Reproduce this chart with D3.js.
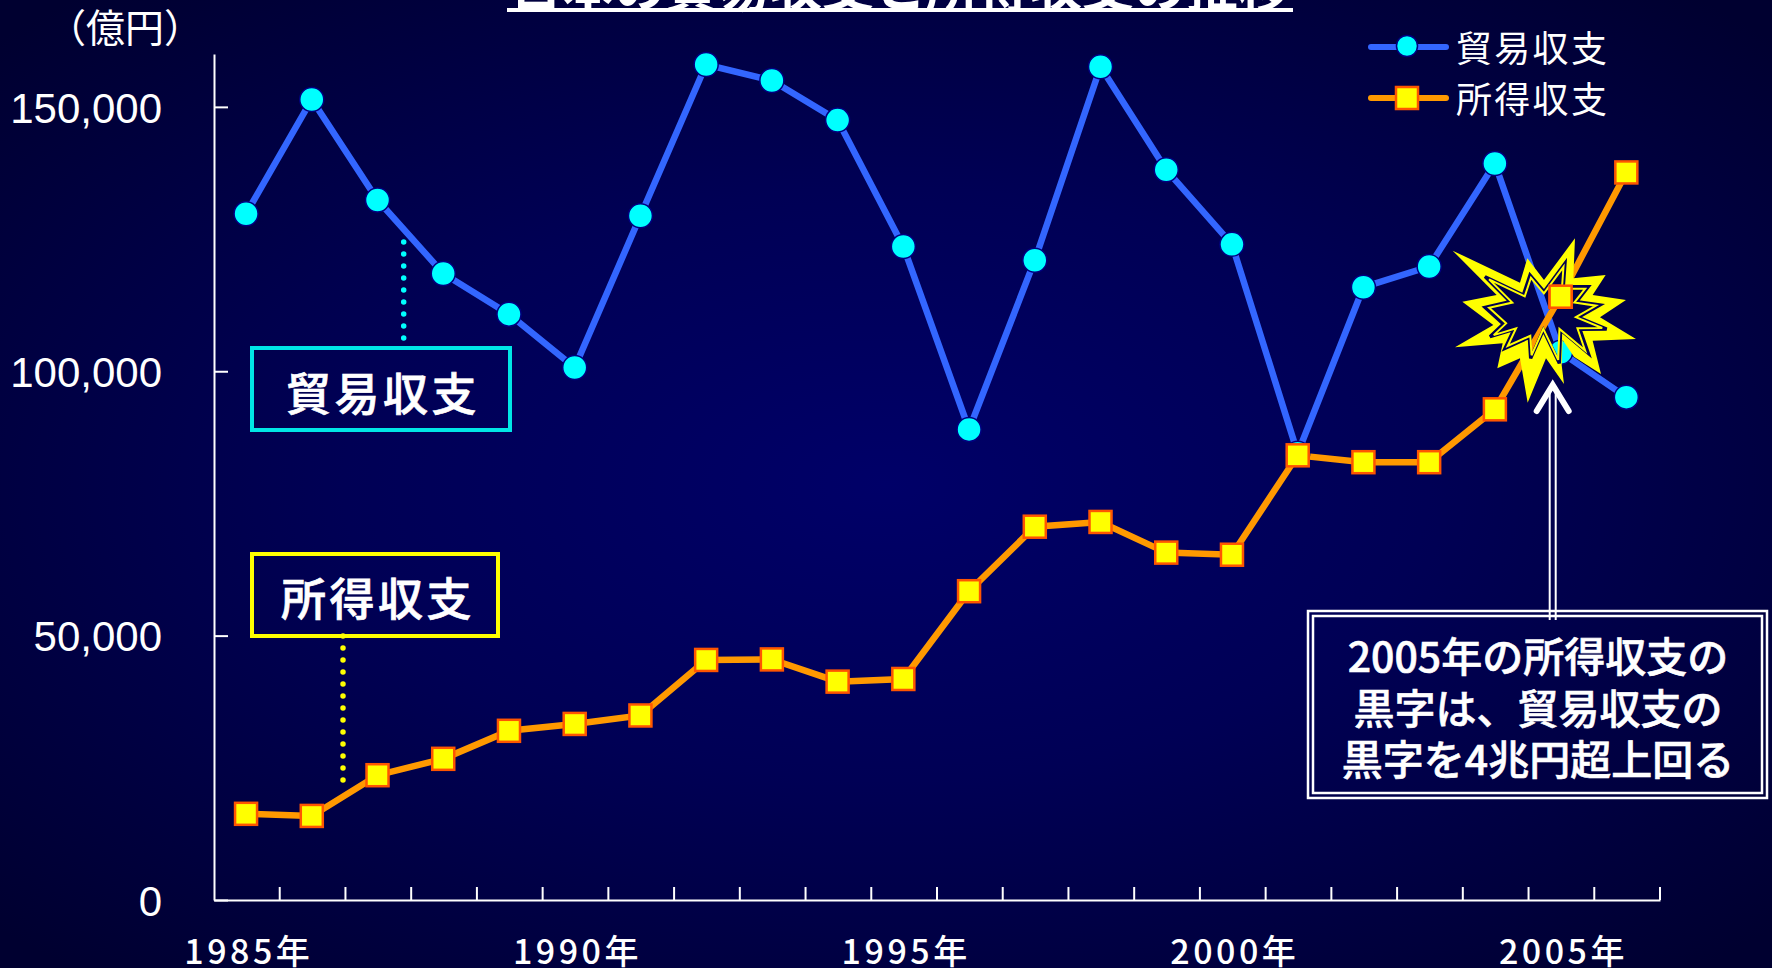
<!DOCTYPE html>
<html lang="ja"><head><meta charset="utf-8">
<script src="https://cdn.jsdelivr.net/npm/d3@7"></script>
<style>
html,body{margin:0;padding:0;background:#000033;overflow:hidden}
svg{display:block}
text{fill:#fff}
</style></head><body>
<svg id="c" width="1772" height="968"></svg>
<script>
const years=d3.range(1985,2007);
const tradeBalance=[129800,151400,132400,118500,110800,100700,129400,158000,155000,147500,123600,89000,121000,157600,138100,124000,84500,115900,119800,139300,103600,95100];
const incomeBalance=[16300,15900,23600,26700,32000,33300,34900,45400,45500,41300,41800,58400,70600,71500,65700,65300,84100,82800,82800,92800,114100,137600];
const yTicks=[0,50000,100000,150000];
const xLabelYears=[1985,1990,1995,2000,2005];
const seriesNames=["貿易収支","所得収支"];
const titleText="日本の貿易収支と所得収支の推移";
const unitText="（億円）";
const noteLines=["2005年の所得収支の","黒字は、貿易収支の","黒字を4兆円超上回る"];
const JP='"Noto Sans CJK JP","Noto Sans",sans-serif', LAT='"Liberation Sans",Arial,sans-serif';

const svg=d3.select("#c");
const defs=svg.append("defs");
const g=defs.append("radialGradient").attr("id","bg").attr("cx","50%").attr("cy","50%").attr("r","68%");
g.append("stop").attr("offset","0%").attr("stop-color","#000068");
g.append("stop").attr("offset","45%").attr("stop-color","#000055");
g.append("stop").attr("offset","100%").attr("stop-color","#000030");
svg.append("rect").attr("width",1772).attr("height",968).attr("fill","url(#bg)");

const x=d3.scaleBand().domain(years).range([214,1660]);
const y=d3.scaleLinear().domain([0,160000]).range([900,54]);
const cx=d=>x(d)+x.bandwidth()/2-0.8;

// title
svg.append("text").attr("x",900).attr("y",7).attr("text-anchor","middle")
 .style("font-family",JP).style("font-size","52px").style("font-weight",700).text(titleText);
svg.append("line").attr("x1",507).attr("x2",1293).attr("y1",10).attr("y2",10).attr("stroke","#fff").attr("stroke-width",4);
svg.append("text").attr("x",125).attr("y",42).attr("text-anchor","middle")
 .style("font-family",JP).style("font-size","39px").text(unitText);

// axes
const yAxis=svg.append("g").attr("transform","translate(214,0)")
 .call(d3.axisLeft(y).tickValues(yTicks).tickFormat(d3.format(",")).tickSizeInner(-14).tickSizeOuter(0).tickPadding(52));
yAxis.selectAll("text").style("font-family",LAT).style("font-size","42px").attr("dy","0.36em");
const xAxis=svg.append("g").attr("transform","translate(2,900)")
 .call(d3.axisBottom(x).tickValues(xLabelYears).tickFormat(d=>d+"年").tickSize(0).tickPadding(52));
xAxis.selectAll("text").style("font-family",JP).style("font-size","34px").style("font-weight",500).style("letter-spacing","3.5px").attr("dy","0.36em");
xAxis.select(".domain").attr("transform","translate(-2,0)");
svg.selectAll("line.xt").data(years.slice(1).concat(["end"])).join("line").attr("class","xt")
 .attr("x1",d=>d==="end"?x.range()[1]:x(d)).attr("x2",d=>d==="end"?x.range()[1]:x(d))
 .attr("y1",900).attr("y2",887).attr("stroke","#fff").attr("stroke-width",2);
svg.selectAll(".domain,.tick line").attr("stroke","#fff").attr("stroke-width",2);

// lines
const line=d3.line().x((d,i)=>cx(years[i])).y(d=>y(d));
svg.append("path").attr("d",line(tradeBalance)).attr("fill","none").attr("stroke","#3366ff").attr("stroke-width",6.5);
svg.append("path").attr("d",line(incomeBalance)).attr("fill","none").attr("stroke","#ff9900").attr("stroke-width",6.5);
function circleMark(sel){return sel.attr("r",12).attr("fill","#00ffff").attr("stroke","#000080").attr("stroke-width",1.5);}
function squareMark(sel){return sel.attr("width",22).attr("height",22).attr("fill","#ffff00").attr("stroke","#ff5500").attr("stroke-width",2.5);}
svg.append("g").selectAll("circle").data(tradeBalance).join("circle").call(circleMark)
 .attr("cx",(d,i)=>cx(years[i])).attr("cy",d=>y(d));
const sqs=svg.append("g");
sqs.selectAll("rect").data(incomeBalance).join("rect").call(squareMark)
 .attr("x",(d,i)=>cx(years[i])-11).attr("y",d=>y(d)-11);

// legend
[[47,0],[98,1]].forEach(([ly,k])=>{
 svg.append("line").attr("x1",1371).attr("x2",1446).attr("y1",ly).attr("y2",ly)
  .attr("stroke",k?"#ff9900":"#3366ff").attr("stroke-width",6).attr("stroke-linecap","round");
 if(k) svg.append("rect").call(squareMark).attr("x",1396).attr("y",ly-11);
 else svg.append("circle").call(circleMark).attr("cx",1407).attr("cy",ly-1).attr("r",10.5);
 svg.append("text").attr("x",1456).attr("y",ly+2).attr("dy","0.36em")
  .style("font-family",JP).style("font-size","36px").style("letter-spacing","2.3px").text(seriesNames[k]);
});

// callout labels
function box(x0,x1,y0,y1,col,name,tx,ty){
 svg.append("rect").attr("x",x0+2).attr("y",y0+2).attr("width",x1-x0-4).attr("height",y1-y0-4)
  .attr("fill","none").attr("stroke",col).attr("stroke-width",4);
 svg.append("text").attr("x",tx).attr("y",ty).attr("dy","0.36em").attr("text-anchor","middle")
  .style("font-family",JP).style("font-size","45px").style("font-weight",500).style("letter-spacing","3.5px")
  .style("stroke","#fff").style("stroke-width","0.7px").text(name);
}
box(250,512,346,432,"#00e6e6",seriesNames[0],383,395);
box(250,500,552,638,"#ffff00",seriesNames[1],378,600);
svg.append("line").attr("x1",403.7).attr("x2",403.7).attr("y1",242).attr("y2",340)
 .attr("stroke","#00ffff").attr("stroke-width",5.5).attr("stroke-linecap","round").attr("stroke-dasharray","0 12");
svg.append("line").attr("x1",343).attr("x2",343).attr("y1",636).attr("y2",782)
 .attr("stroke","#ffff00").attr("stroke-width",5.5).attr("stroke-linecap","round").attr("stroke-dasharray","0 12");

// burst
const outer=[[38,62],[240,158],[262,85],[312,150],[405,25],[400,145],[497,135],[458,195],[558,210],[480,262],[588,327],[458,332],[483,432],[402,380],[368,330],[365,405],[372,462],[318,385],[263,518],[240,385],[172,415],[188,340],[45,352],[160,285],[67,215],[170,195]];
const mid=[[135,140],[250,195],[270,135],[312,185],[375,100],[370,170],[445,170],[410,215],[480,225],[415,262],[500,297],[420,298],[445,370],[362,300],[358,400],[310,300],[272,385],[268,322],[195,355],[222,298],[150,320],[190,282],[135,232],[210,215]];
const poly=p=>"M"+p.map(d=>d.join(",")).join("L")+"Z";
const burst=svg.append("g").attr("transform","translate(1440,230) scale(0.3333)");
burst.append("path").attr("d",poly(outer)+poly(mid)).attr("fill","#ffff00").attr("fill-rule","evenodd");
burst.append("path").attr("d",poly(mid)).attr("fill","none").attr("stroke","#000050").attr("stroke-width",10);
const c0=[310,255];
burst.append("path").attr("d",poly(mid.map(([a,b])=>[c0[0]+(a-c0[0])*.93,c0[1]+(b-c0[1])*.93])))
 .attr("fill","none").attr("stroke","#ffff00").attr("stroke-width",6);
// 2005 income marker stays above the burst
svg.append("rect").call(squareMark).attr("x",cx(2005)-11).attr("y",y(incomeBalance[years.indexOf(2005)])-11);

// note + arrow
const ax=1552.7;
svg.append("line").attr("x1",ax-3).attr("x2",ax-3).attr("y1",390).attr("y2",620).attr("stroke","#fff").attr("stroke-width",2);
svg.append("line").attr("x1",ax+3).attr("x2",ax+3).attr("y1",390).attr("y2",620).attr("stroke","#fff").attr("stroke-width",2);
svg.append("path").attr("d",`M${ax-16},411L${ax},385L${ax+16},411`).attr("fill","none").attr("stroke","#fff").attr("stroke-width",6).attr("stroke-linecap","round").attr("stroke-linejoin","miter");
svg.append("rect").attr("x",1308).attr("y",611).attr("width",459).attr("height",187).attr("fill","none").attr("stroke","#fff").attr("stroke-width",2.5);
svg.append("rect").attr("x",1313).attr("y",616).attr("width",449).attr("height",177).attr("fill","none").attr("stroke","#fff").attr("stroke-width",2.5);
svg.selectAll("text.note").data(noteLines).join("text").attr("class","note")
 .attr("x",1538).attr("y",(d,i)=>[657,709,760][i]).attr("dy","0.36em").attr("text-anchor","middle")
 .style("font-family",JP).style("font-size","41px").style("font-weight",500)
 .style("stroke","#fff").style("stroke-width","0.6px").text(d=>d);
</script></body></html>
